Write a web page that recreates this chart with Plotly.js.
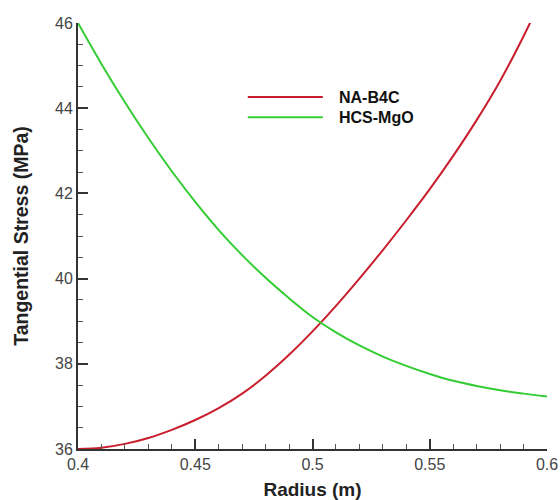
<!DOCTYPE html>
<html>
<head>
<meta charset="utf-8">
<script src="https://cdn.plot.ly/plotly-3.0.1.min.js"></script>
<style>html,body{margin:0;padding:0;background:#fff;}#chart{width:560px;height:500px;}</style>
</head>
<body>
<div id="chart"></div>
<script>
// Data
var radius = [0.40, 0.41, 0.42, 0.43, 0.44, 0.45, 0.46, 0.47, 0.48, 0.49, 0.50,
              0.51, 0.52, 0.53, 0.54, 0.55, 0.56, 0.57, 0.58, 0.59, 0.60];
var naB4C = [36.00, 36.03, 36.12, 36.26, 36.45, 36.68, 36.96, 37.30, 37.72, 38.21, 38.76,
             39.36, 40.00, 40.67, 41.37, 42.10, 42.88, 43.72, 44.64, 45.69, 46.84];
var hcsMgO = [46.00, 45.04, 44.14, 43.30, 42.52, 41.80, 41.14, 40.55, 40.02, 39.54, 39.10,
              38.74, 38.43, 38.17, 37.95, 37.76, 37.60, 37.48, 37.38, 37.30, 37.23];
var seriesNames = ['NA-B4C', 'HCS-MgO'];
var seriesColors = ['#c81e2d', '#33cc33'];
var xTickVals = [0.4, 0.45, 0.5, 0.55, 0.6];
var xTickText = ['0.4', '0.45', '0.5', '0.55', '0.6'];
var yTickVals = [36, 38, 40, 42, 44, 46];
var yTickText = ['36', '38', '40', '42', '44', '46'];

var traces = [
  {x: radius, y: naB4C, name: seriesNames[0], type: 'scatter', mode: 'lines',
   line: {color: seriesColors[0], width: 2, shape: 'spline'}},
  {x: radius, y: hcsMgO, name: seriesNames[1], type: 'scatter', mode: 'lines',
   line: {color: seriesColors[1], width: 2, shape: 'spline'}}
];

// custom legend (long line samples as in the reference)
var legX0 = 0.362, legX1 = 0.522, legTextX = 0.552, legY = [0.826, 0.779];
var shapes = [], annotations = [];
for (var i = 0; i < seriesNames.length; i++) {
  shapes.push({type: 'line', xref: 'paper', yref: 'paper', x0: legX0, x1: legX1,
               y0: legY[i], y1: legY[i], line: {color: seriesColors[i], width: 2}});
  annotations.push({xref: 'paper', yref: 'paper', x: legTextX, y: legY[i], xanchor: 'left',
                    yanchor: 'middle', showarrow: false, text: '<b>' + seriesNames[i] + '</b>',
                    font: {family: 'Liberation Sans, Arial, sans-serif', size: 16, color: '#111'}});
}

var axisCommon = {
  showline: true, linecolor: '#333', linewidth: 2, showgrid: false, zeroline: false,
  ticks: 'inside', ticklen: 10, tickwidth: 2, tickcolor: '#333',
  tickfont: {family: 'Liberation Sans, Arial, sans-serif', size: 16, color: '#444'},
  tickmode: 'array'
};

var layout = {
  width: 560, height: 500,
  margin: {l: 78, r: 13, t: 23, b: 51},
  paper_bgcolor: '#fff', plot_bgcolor: '#fff',
  showlegend: false,
  xaxis: Object.assign({}, axisCommon, {
    range: [0.4, 0.6], tickvals: xTickVals, ticktext: xTickText,
    minor: {dtick: 0.01, ticks: 'inside', ticklen: 5, tickwidth: 1, tickcolor: '#555'},
    title: {text: '<b>Radius (m)</b>', standoff: 14,
            font: {family: 'Liberation Sans, Arial, sans-serif', size: 19, color: '#222'}}
  }),
  yaxis: Object.assign({}, axisCommon, {
    range: [36, 46], tickvals: yTickVals, ticktext: yTickText,
    minor: {dtick: 0.5, ticks: 'inside', ticklen: 5, tickwidth: 1, tickcolor: '#555'},
    title: {text: '<b>Tangential Stress (MPa)</b>', standoff: 21,
            font: {family: 'Liberation Sans, Arial, sans-serif', size: 19.5, color: '#222'}}
  }),
  shapes: shapes,
  annotations: annotations
};

Plotly.newPlot('chart', traces, layout, {staticPlot: true, displayModeBar: false});
</script>
</body>
</html>
